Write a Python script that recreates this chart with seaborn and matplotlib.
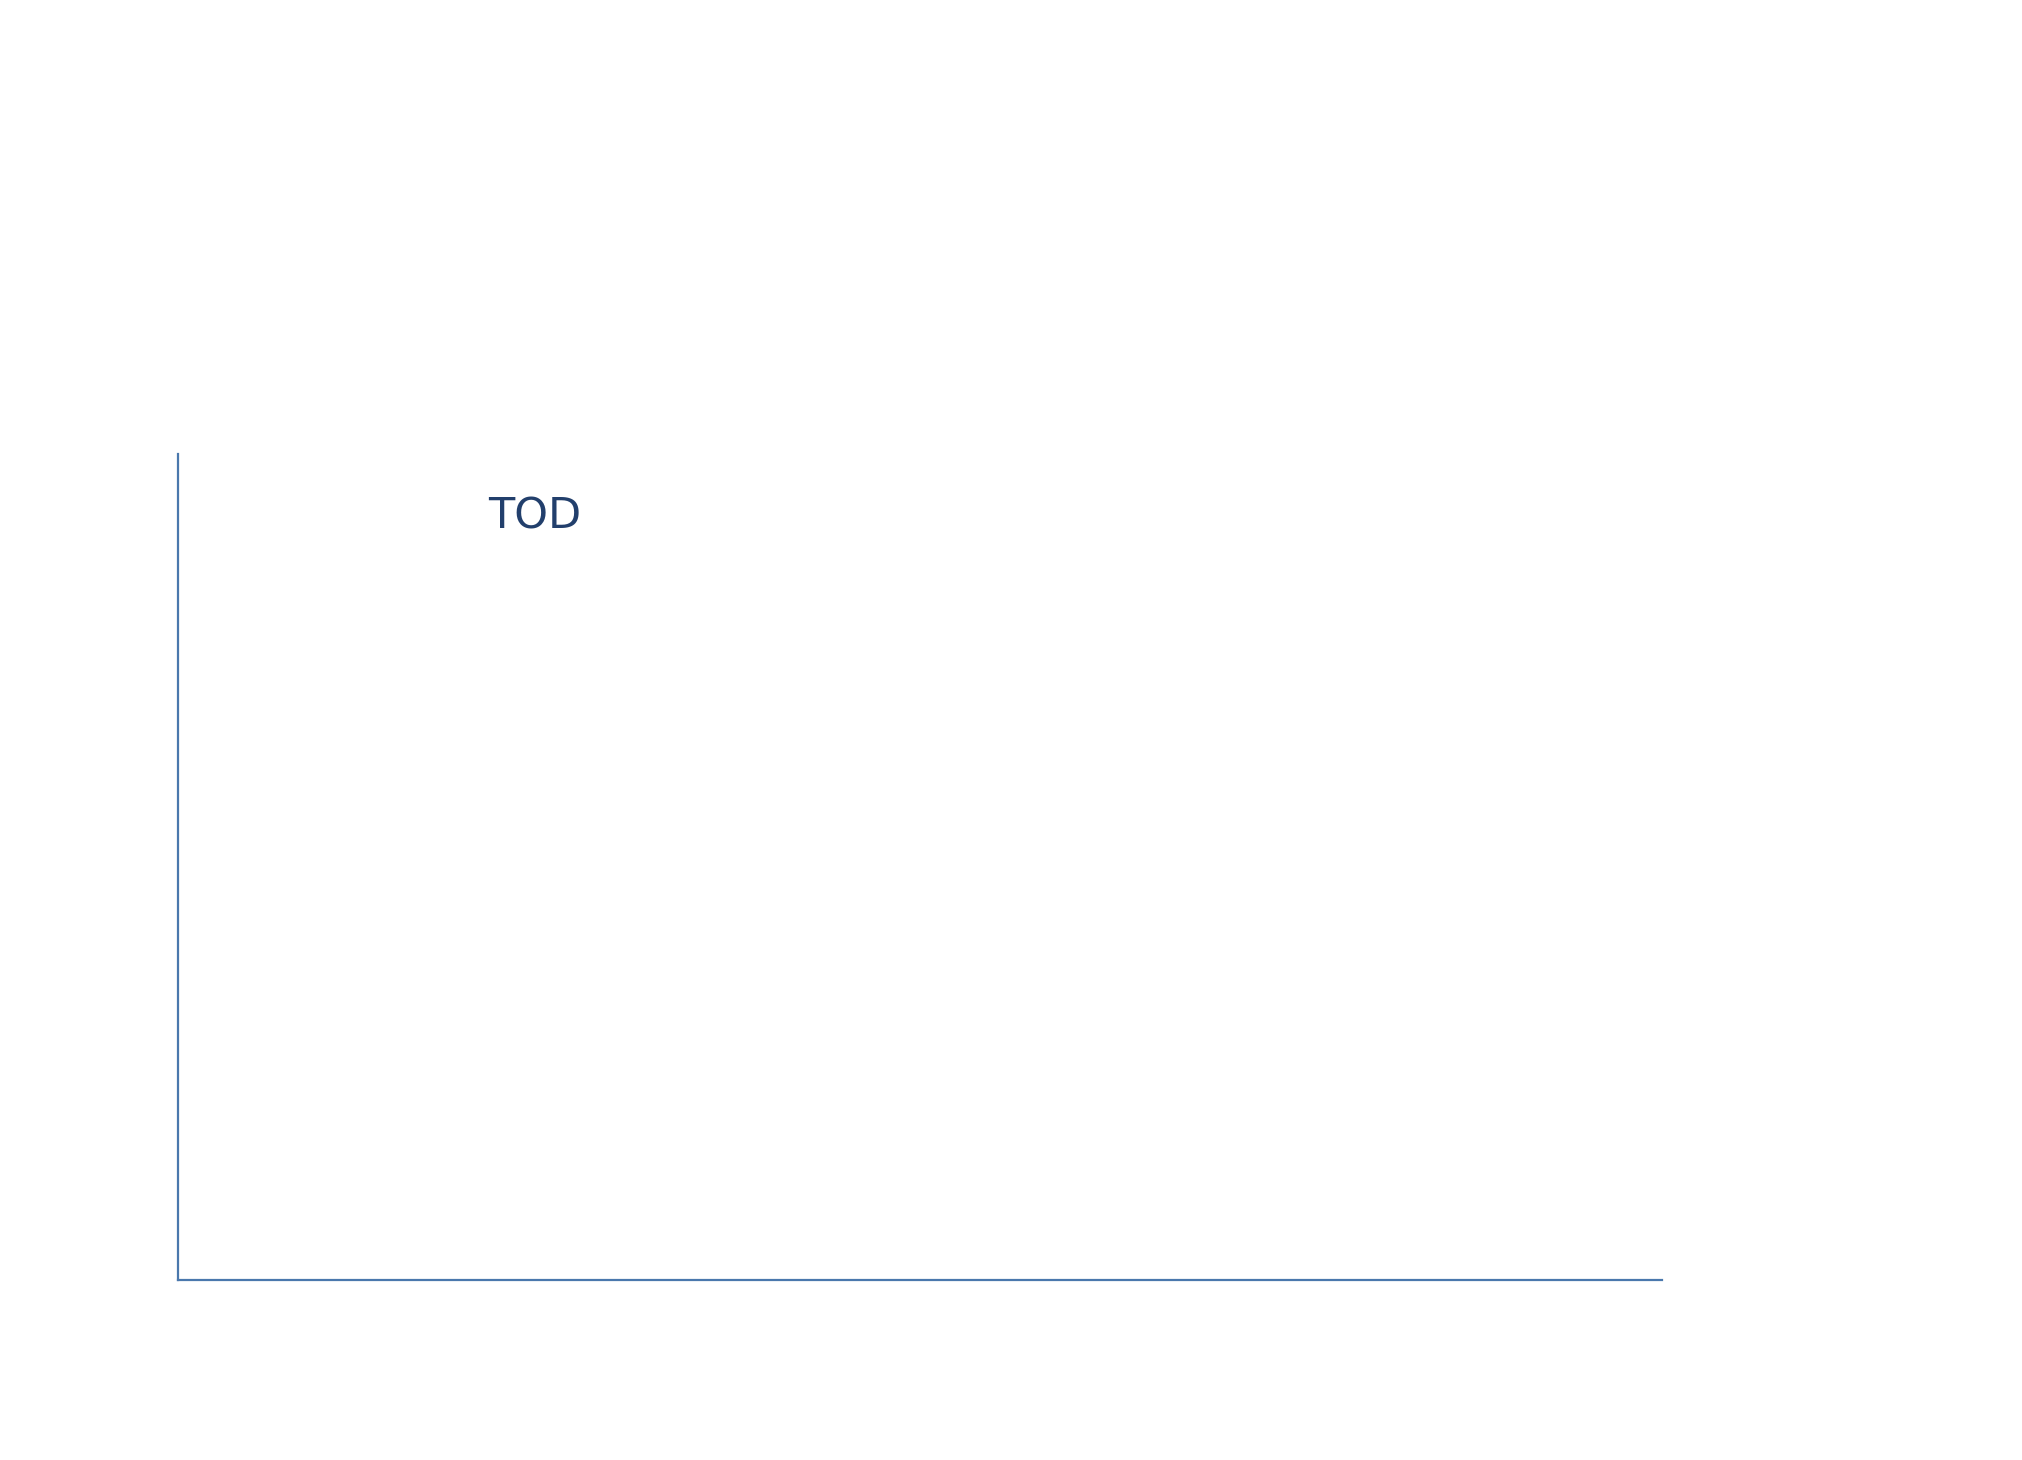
import numpy as np
import pandas as pd
import matplotlib
matplotlib.use("Agg")
import matplotlib.pyplot as plt
import seaborn as sns

# the chart is empty apart from its axes and one label
labels = ["TOD"]
x_vals = []
y_vals = []

sns.set_style("white")
plt.rcParams['font.family'] = ['DejaVu Sans']

fig = plt.figure(figsize=(20.22, 14.6), dpi=100)
ax = fig.add_axes([0.088, 0.123, 0.734, 0.566])

df = pd.DataFrame({"x": pd.Series(x_vals, dtype=float), "y": pd.Series(y_vals, dtype=float)})
sns.lineplot(data=df, x="x", y="y", ax=ax)
ax.set_xlim(0, 1)
ax.set_ylim(0, 1)

sns.despine(ax=ax)
for side in ["left", "bottom"]:
    ax.spines[side].set_color("#4a78ad")
    ax.spines[side].set_linewidth(1.6)
ax.set_xticks([])
ax.set_yticks([])
ax.set_xlabel("")
ax.set_ylabel("")

ax.text(0.209, 0.924, labels[0], transform=ax.transAxes, ha="left", va="center",
        fontsize=31, color="#223f6c")

fig.savefig("out.png", dpi=100, facecolor="white")
